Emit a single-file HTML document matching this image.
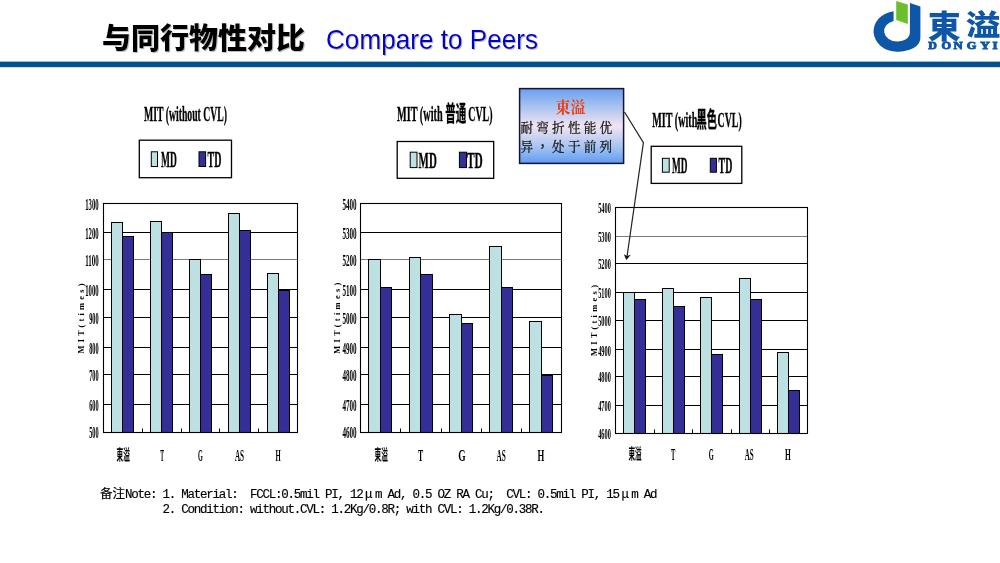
<!DOCTYPE html>
<html><head><meta charset="utf-8"><title>Compare to Peers</title>
<style>
html,body{margin:0;padding:0;background:#fff;}
body{width:1000px;height:563px;overflow:hidden;position:relative;}
svg{position:absolute;left:0;top:0;display:block;}
.note{position:absolute;left:100px;top:486px;font-family:'Liberation Mono','Noto Sans CJK SC',monospace;font-size:12.5px;line-height:14.7px;color:#000;white-space:pre;-webkit-text-stroke:0.15px #000;letter-spacing:-1.25px;}
.note .cj{font-family:'Noto Sans CJK SC',sans-serif;letter-spacing:0;display:inline-block;width:25px;}
.note .l2{padding-left:62.5px;}
.note .mu{font-family:'Noto Sans CJK SC',sans-serif;letter-spacing:0;display:inline-block;width:12.5px;text-align:center;}
</style></head><body>
<svg width="1000" height="563" viewBox="0 0 1000 563">
<defs><linearGradient id="cg" x1="0" y1="0" x2="0" y2="1"><stop offset="0" stop-color="#6A9EF0"/><stop offset="0.22" stop-color="#A2C0F0"/><stop offset="0.5" stop-color="#F2E4F0"/><stop offset="0.78" stop-color="#A4C4F2"/><stop offset="1" stop-color="#5F9AF2"/></linearGradient><filter id="sh" x="-5%" y="-20%" width="110%" height="140%"><feDropShadow dx="1" dy="1" stdDeviation="0.5" flood-color="#888" flood-opacity="0.55"/></filter></defs>
<rect width="1000" height="563" fill="#fff"/>
<rect x="0" y="61.6" width="1000" height="5.6" fill="#03508F"/>
<text x="102" y="49" font-size="29" font-family="'Liberation Sans','Noto Sans CJK SC',sans-serif" font-weight="900" fill="#000" text-anchor="start" textLength="203" lengthAdjust="spacingAndGlyphs" filter="url(#sh)">与同行物性对比</text>
<text x="326" y="48.8" font-size="28.5" font-family="'Liberation Sans',sans-serif" font-weight="normal" fill="#0000C8" text-anchor="start" textLength="212" lengthAdjust="spacingAndGlyphs" filter="url(#sh)">Compare to Peers</text>
<path d="M893.6 11.3 A23.3 20.3 0 0 0 896.8 51.7 C909 51.7 920.4 47 920.4 37.5 L920.4 6.5 L909.9 3 L909.9 32 C909.9 38 904.5 41.5 897.2 41.5 A13 10.5 0 0 1 893.6 20.9 Z" fill="#0D56A8"/>
<polygon points="896.2,1 907.8,4.5 907.8,23.9 896.2,19.9" fill="#6DBE2D"/>
<text y="37.6" font-family="'Liberation Sans','Noto Sans CJK TC',sans-serif" font-weight="900" fill="#0D56A8"><tspan x="928" font-size="31.5" textLength="32.6" lengthAdjust="spacingAndGlyphs">東</tspan><tspan x="965.8" y="36" font-size="29" textLength="34.6" lengthAdjust="spacingAndGlyphs">溢</tspan></text>
<text y="49.3" font-size="9.3" font-family="'Liberation Serif',serif" font-weight="bold" fill="#0D56A8" stroke="#0D56A8" stroke-width="0.8"><tspan x="928.3" textLength="8.6" lengthAdjust="spacingAndGlyphs">D</tspan><tspan x="941.6" textLength="9.6" lengthAdjust="spacingAndGlyphs">O</tspan><tspan x="953.6" textLength="9.2" lengthAdjust="spacingAndGlyphs">N</tspan><tspan x="966.7" textLength="9.6" lengthAdjust="spacingAndGlyphs">G</tspan> <tspan x="980.2" textLength="9.6" lengthAdjust="spacingAndGlyphs">Y</tspan><tspan x="992.6" textLength="5.1" lengthAdjust="spacingAndGlyphs">I</tspan></text>
<line x1="103.5" y1="232.5" x2="297.5" y2="232.5" stroke="#000" stroke-width="1"/>
<line x1="103.5" y1="259.5" x2="297.5" y2="259.5" stroke="#7a7a7a" stroke-width="1"/>
<line x1="103.5" y1="289.5" x2="297.5" y2="289.5" stroke="#000" stroke-width="1"/>
<line x1="103.5" y1="317.5" x2="297.5" y2="317.5" stroke="#000" stroke-width="1"/>
<line x1="103.5" y1="347.5" x2="297.5" y2="347.5" stroke="#000" stroke-width="1"/>
<line x1="103.5" y1="374.5" x2="297.5" y2="374.5" stroke="#000" stroke-width="1"/>
<line x1="103.5" y1="404.5" x2="297.5" y2="404.5" stroke="#000" stroke-width="1"/>
<rect x="111.5" y="222.5" width="11" height="210" fill="#BDE0E3" stroke="#000" stroke-width="1"/>
<rect x="122.5" y="236.5" width="11" height="196" fill="#342F97" stroke="#000" stroke-width="1"/>
<rect x="150.5" y="221.5" width="11" height="211" fill="#BDE0E3" stroke="#000" stroke-width="1"/>
<rect x="161.5" y="232.5" width="11" height="200" fill="#342F97" stroke="#000" stroke-width="1"/>
<rect x="189.5" y="259.5" width="11" height="173" fill="#BDE0E3" stroke="#000" stroke-width="1"/>
<rect x="200.5" y="274.5" width="11" height="158" fill="#342F97" stroke="#000" stroke-width="1"/>
<rect x="228.5" y="213.5" width="11" height="219" fill="#BDE0E3" stroke="#000" stroke-width="1"/>
<rect x="239.5" y="230.5" width="11" height="202" fill="#342F97" stroke="#000" stroke-width="1"/>
<rect x="267.5" y="273.5" width="11" height="159" fill="#BDE0E3" stroke="#000" stroke-width="1"/>
<rect x="278.5" y="290.5" width="11" height="142" fill="#342F97" stroke="#000" stroke-width="1"/>
<rect x="103.5" y="203.5" width="194" height="229" fill="none" stroke="#000" stroke-width="1.1"/>
<line x1="142.5" y1="428.5" x2="142.5" y2="432.5" stroke="#000" stroke-width="1"/>
<line x1="181.5" y1="428.5" x2="181.5" y2="432.5" stroke="#000" stroke-width="1"/>
<line x1="219.5" y1="428.5" x2="219.5" y2="432.5" stroke="#000" stroke-width="1"/>
<line x1="258.5" y1="428.5" x2="258.5" y2="432.5" stroke="#000" stroke-width="1"/>
<text x="98.6" y="209.56" font-size="16" font-family="'Liberation Serif', 'Noto Serif CJK SC', serif" font-weight="bold" fill="#000" text-anchor="end" textLength="13.4" lengthAdjust="spacingAndGlyphs" >1300</text>
<text x="98.6" y="238.66" font-size="16" font-family="'Liberation Serif', 'Noto Serif CJK SC', serif" font-weight="bold" fill="#000" text-anchor="end" textLength="13.4" lengthAdjust="spacingAndGlyphs" >1200</text>
<text x="98.6" y="265.86" font-size="16" font-family="'Liberation Serif', 'Noto Serif CJK SC', serif" font-weight="bold" fill="#000" text-anchor="end" textLength="13.4" lengthAdjust="spacingAndGlyphs" >1100</text>
<text x="98.6" y="295.66" font-size="16" font-family="'Liberation Serif', 'Noto Serif CJK SC', serif" font-weight="bold" fill="#000" text-anchor="end" textLength="13.4" lengthAdjust="spacingAndGlyphs" >1000</text>
<text x="98.6" y="323.66" font-size="16" font-family="'Liberation Serif', 'Noto Serif CJK SC', serif" font-weight="bold" fill="#000" text-anchor="end" textLength="9.35" lengthAdjust="spacingAndGlyphs" >900</text>
<text x="98.6" y="353.56" font-size="16" font-family="'Liberation Serif', 'Noto Serif CJK SC', serif" font-weight="bold" fill="#000" text-anchor="end" textLength="9.35" lengthAdjust="spacingAndGlyphs" >800</text>
<text x="98.6" y="380.96" font-size="16" font-family="'Liberation Serif', 'Noto Serif CJK SC', serif" font-weight="bold" fill="#000" text-anchor="end" textLength="9.35" lengthAdjust="spacingAndGlyphs" >700</text>
<text x="98.6" y="410.76" font-size="16" font-family="'Liberation Serif', 'Noto Serif CJK SC', serif" font-weight="bold" fill="#000" text-anchor="end" textLength="9.35" lengthAdjust="spacingAndGlyphs" >600</text>
<text x="98.6" y="438.16" font-size="16" font-family="'Liberation Serif', 'Noto Serif CJK SC', serif" font-weight="bold" fill="#000" text-anchor="end" textLength="9.35" lengthAdjust="spacingAndGlyphs" >500</text>
<text x="116.5" y="459.6" font-size="15" font-family="'Liberation Serif', 'Noto Sans CJK SC', sans-serif" font-weight="bold" fill="#000" text-anchor="start" textLength="13.3" lengthAdjust="spacingAndGlyphs" >東溢</text>
<text x="160.3" y="460.6" font-size="16" font-family="'Liberation Serif', 'Noto Serif CJK SC', serif" font-weight="bold" fill="#000" text-anchor="start" textLength="3.8" lengthAdjust="spacingAndGlyphs" >T</text>
<text x="198.1" y="460.6" font-size="16" font-family="'Liberation Serif', 'Noto Serif CJK SC', serif" font-weight="bold" fill="#000" text-anchor="start" textLength="4.8" lengthAdjust="spacingAndGlyphs" >G</text>
<text x="234.9" y="460.6" font-size="16" font-family="'Liberation Serif', 'Noto Serif CJK SC', serif" font-weight="bold" fill="#000" text-anchor="start" textLength="9.1" lengthAdjust="spacingAndGlyphs" >AS</text>
<text x="275.4" y="460.6" font-size="16" font-family="'Liberation Serif', 'Noto Serif CJK SC', serif" font-weight="bold" fill="#000" text-anchor="start" textLength="5.2" lengthAdjust="spacingAndGlyphs" >H</text>
<text transform="translate(84.3,353.5) rotate(-90)" font-size="8.5" font-family="'Liberation Serif', 'Noto Serif CJK SC', serif" font-weight="bold" textLength="70" lengthAdjust="spacing" fill="#000">M I T ( t i m e s )</text>
<line x1="360.5" y1="232.5" x2="561.5" y2="232.5" stroke="#000" stroke-width="1"/>
<line x1="360.5" y1="259.5" x2="561.5" y2="259.5" stroke="#7a7a7a" stroke-width="1"/>
<line x1="360.5" y1="289.5" x2="561.5" y2="289.5" stroke="#000" stroke-width="1"/>
<line x1="360.5" y1="317.5" x2="561.5" y2="317.5" stroke="#000" stroke-width="1"/>
<line x1="360.5" y1="347.5" x2="561.5" y2="347.5" stroke="#000" stroke-width="1"/>
<line x1="360.5" y1="374.5" x2="561.5" y2="374.5" stroke="#000" stroke-width="1"/>
<line x1="360.5" y1="404.5" x2="561.5" y2="404.5" stroke="#000" stroke-width="1"/>
<rect x="368.5" y="259.5" width="12" height="173" fill="#BDE0E3" stroke="#000" stroke-width="1"/>
<rect x="380.5" y="287.5" width="11" height="145" fill="#342F97" stroke="#000" stroke-width="1"/>
<rect x="409.5" y="257.5" width="11" height="175" fill="#BDE0E3" stroke="#000" stroke-width="1"/>
<rect x="420.5" y="274.5" width="12" height="158" fill="#342F97" stroke="#000" stroke-width="1"/>
<rect x="449.5" y="314.5" width="12" height="118" fill="#BDE0E3" stroke="#000" stroke-width="1"/>
<rect x="461.5" y="323.5" width="11" height="109" fill="#342F97" stroke="#000" stroke-width="1"/>
<rect x="489.5" y="246.5" width="12" height="186" fill="#BDE0E3" stroke="#000" stroke-width="1"/>
<rect x="501.5" y="287.5" width="11" height="145" fill="#342F97" stroke="#000" stroke-width="1"/>
<rect x="529.5" y="321.5" width="12" height="111" fill="#BDE0E3" stroke="#000" stroke-width="1"/>
<rect x="541.5" y="375.5" width="11" height="57" fill="#342F97" stroke="#000" stroke-width="1"/>
<rect x="360.5" y="203.5" width="201" height="229" fill="none" stroke="#000" stroke-width="1.1"/>
<line x1="400.5" y1="428.5" x2="400.5" y2="432.5" stroke="#000" stroke-width="1"/>
<line x1="441.5" y1="428.5" x2="441.5" y2="432.5" stroke="#000" stroke-width="1"/>
<line x1="481.5" y1="428.5" x2="481.5" y2="432.5" stroke="#000" stroke-width="1"/>
<line x1="521.5" y1="428.5" x2="521.5" y2="432.5" stroke="#000" stroke-width="1"/>
<text x="356.6" y="209.56" font-size="16" font-family="'Liberation Serif', 'Noto Serif CJK SC', serif" font-weight="bold" fill="#000" text-anchor="end" textLength="14.2" lengthAdjust="spacingAndGlyphs" >5400</text>
<text x="356.6" y="238.66" font-size="16" font-family="'Liberation Serif', 'Noto Serif CJK SC', serif" font-weight="bold" fill="#000" text-anchor="end" textLength="14.2" lengthAdjust="spacingAndGlyphs" >5300</text>
<text x="356.6" y="265.86" font-size="16" font-family="'Liberation Serif', 'Noto Serif CJK SC', serif" font-weight="bold" fill="#000" text-anchor="end" textLength="14.2" lengthAdjust="spacingAndGlyphs" >5200</text>
<text x="356.6" y="295.66" font-size="16" font-family="'Liberation Serif', 'Noto Serif CJK SC', serif" font-weight="bold" fill="#000" text-anchor="end" textLength="14.2" lengthAdjust="spacingAndGlyphs" >5100</text>
<text x="356.6" y="323.66" font-size="16" font-family="'Liberation Serif', 'Noto Serif CJK SC', serif" font-weight="bold" fill="#000" text-anchor="end" textLength="14.2" lengthAdjust="spacingAndGlyphs" >5000</text>
<text x="356.6" y="353.56" font-size="16" font-family="'Liberation Serif', 'Noto Serif CJK SC', serif" font-weight="bold" fill="#000" text-anchor="end" textLength="14.2" lengthAdjust="spacingAndGlyphs" >4900</text>
<text x="356.6" y="380.96" font-size="16" font-family="'Liberation Serif', 'Noto Serif CJK SC', serif" font-weight="bold" fill="#000" text-anchor="end" textLength="14.2" lengthAdjust="spacingAndGlyphs" >4800</text>
<text x="356.6" y="410.76" font-size="16" font-family="'Liberation Serif', 'Noto Serif CJK SC', serif" font-weight="bold" fill="#000" text-anchor="end" textLength="14.2" lengthAdjust="spacingAndGlyphs" >4700</text>
<text x="356.6" y="438.16" font-size="16" font-family="'Liberation Serif', 'Noto Serif CJK SC', serif" font-weight="bold" fill="#000" text-anchor="end" textLength="14.2" lengthAdjust="spacingAndGlyphs" >4600</text>
<text x="374.6" y="459.7" font-size="15" font-family="'Liberation Serif', 'Noto Sans CJK SC', sans-serif" font-weight="bold" fill="#000" text-anchor="start" textLength="13.3" lengthAdjust="spacingAndGlyphs" >東溢</text>
<text x="418.1" y="460.7" font-size="16" font-family="'Liberation Serif', 'Noto Serif CJK SC', serif" font-weight="bold" fill="#000" text-anchor="start" textLength="5.2" lengthAdjust="spacingAndGlyphs" >T</text>
<text x="458.3" y="460.7" font-size="16" font-family="'Liberation Serif', 'Noto Serif CJK SC', serif" font-weight="bold" fill="#000" text-anchor="start" textLength="7.4" lengthAdjust="spacingAndGlyphs" >G</text>
<text x="496.6" y="460.7" font-size="16" font-family="'Liberation Serif', 'Noto Serif CJK SC', serif" font-weight="bold" fill="#000" text-anchor="start" textLength="9.2" lengthAdjust="spacingAndGlyphs" >AS</text>
<text x="537.4" y="460.7" font-size="16" font-family="'Liberation Serif', 'Noto Serif CJK SC', serif" font-weight="bold" fill="#000" text-anchor="start" textLength="6.8" lengthAdjust="spacingAndGlyphs" >H</text>
<text transform="translate(340.1,353.7) rotate(-90)" font-size="8.5" font-family="'Liberation Serif', 'Noto Serif CJK SC', serif" font-weight="bold" textLength="71" lengthAdjust="spacing" fill="#000">M I T ( t i m e s )</text>
<line x1="615.5" y1="236.5" x2="807.5" y2="236.5" stroke="#7a7a7a" stroke-width="1"/>
<line x1="615.5" y1="263.5" x2="807.5" y2="263.5" stroke="#000" stroke-width="1"/>
<line x1="615.5" y1="292.5" x2="807.5" y2="292.5" stroke="#000" stroke-width="1"/>
<line x1="615.5" y1="320.5" x2="807.5" y2="320.5" stroke="#000" stroke-width="1"/>
<line x1="615.5" y1="349.5" x2="807.5" y2="349.5" stroke="#000" stroke-width="1"/>
<line x1="615.5" y1="376.5" x2="807.5" y2="376.5" stroke="#000" stroke-width="1"/>
<line x1="615.5" y1="405.5" x2="807.5" y2="405.5" stroke="#000" stroke-width="1"/>
<rect x="623.5" y="292.5" width="11" height="141" fill="#BDE0E3" stroke="#000" stroke-width="1"/>
<rect x="634.5" y="299.5" width="11" height="134" fill="#342F97" stroke="#000" stroke-width="1"/>
<rect x="662.5" y="288.5" width="11" height="145" fill="#BDE0E3" stroke="#000" stroke-width="1"/>
<rect x="673.5" y="306.5" width="11" height="127" fill="#342F97" stroke="#000" stroke-width="1"/>
<rect x="700.5" y="297.5" width="11" height="136" fill="#BDE0E3" stroke="#000" stroke-width="1"/>
<rect x="711.5" y="354.5" width="11" height="79" fill="#342F97" stroke="#000" stroke-width="1"/>
<rect x="739.5" y="278.5" width="11" height="155" fill="#BDE0E3" stroke="#000" stroke-width="1"/>
<rect x="750.5" y="299.5" width="11" height="134" fill="#342F97" stroke="#000" stroke-width="1"/>
<rect x="777.5" y="352.5" width="11" height="81" fill="#BDE0E3" stroke="#000" stroke-width="1"/>
<rect x="788.5" y="390.5" width="11" height="43" fill="#342F97" stroke="#000" stroke-width="1"/>
<rect x="615.5" y="207.5" width="192" height="226" fill="none" stroke="#000" stroke-width="1.1"/>
<line x1="654.5" y1="429.5" x2="654.5" y2="433.5" stroke="#000" stroke-width="1"/>
<line x1="692.5" y1="429.5" x2="692.5" y2="433.5" stroke="#000" stroke-width="1"/>
<line x1="731.5" y1="429.5" x2="731.5" y2="433.5" stroke="#000" stroke-width="1"/>
<line x1="769.5" y1="429.5" x2="769.5" y2="433.5" stroke="#000" stroke-width="1"/>
<text x="610.8" y="213.4" font-size="15" font-family="'Liberation Serif', 'Noto Serif CJK SC', serif" font-weight="bold" fill="#000" text-anchor="end" textLength="12.6" lengthAdjust="spacingAndGlyphs" >5400</text>
<text x="610.8" y="242.3" font-size="15" font-family="'Liberation Serif', 'Noto Serif CJK SC', serif" font-weight="bold" fill="#000" text-anchor="end" textLength="12.6" lengthAdjust="spacingAndGlyphs" >5300</text>
<text x="610.8" y="269.1" font-size="15" font-family="'Liberation Serif', 'Noto Serif CJK SC', serif" font-weight="bold" fill="#000" text-anchor="end" textLength="12.6" lengthAdjust="spacingAndGlyphs" >5200</text>
<text x="610.8" y="298.4" font-size="15" font-family="'Liberation Serif', 'Noto Serif CJK SC', serif" font-weight="bold" fill="#000" text-anchor="end" textLength="12.6" lengthAdjust="spacingAndGlyphs" >5100</text>
<text x="610.8" y="326.3" font-size="15" font-family="'Liberation Serif', 'Noto Serif CJK SC', serif" font-weight="bold" fill="#000" text-anchor="end" textLength="12.6" lengthAdjust="spacingAndGlyphs" >5000</text>
<text x="610.8" y="355.5" font-size="15" font-family="'Liberation Serif', 'Noto Serif CJK SC', serif" font-weight="bold" fill="#000" text-anchor="end" textLength="12.6" lengthAdjust="spacingAndGlyphs" >4900</text>
<text x="610.8" y="382.2" font-size="15" font-family="'Liberation Serif', 'Noto Serif CJK SC', serif" font-weight="bold" fill="#000" text-anchor="end" textLength="12.6" lengthAdjust="spacingAndGlyphs" >4800</text>
<text x="610.8" y="411.3" font-size="15" font-family="'Liberation Serif', 'Noto Serif CJK SC', serif" font-weight="bold" fill="#000" text-anchor="end" textLength="12.6" lengthAdjust="spacingAndGlyphs" >4700</text>
<text x="610.8" y="438.9" font-size="15" font-family="'Liberation Serif', 'Noto Serif CJK SC', serif" font-weight="bold" fill="#000" text-anchor="end" textLength="12.6" lengthAdjust="spacingAndGlyphs" >4600</text>
<text x="628.4" y="459.4" font-size="14.5" font-family="'Liberation Serif', 'Noto Sans CJK SC', sans-serif" font-weight="bold" fill="#000" text-anchor="start" textLength="13.2" lengthAdjust="spacingAndGlyphs" >東溢</text>
<text x="671" y="459.7" font-size="16" font-family="'Liberation Serif', 'Noto Serif CJK SC', serif" font-weight="bold" fill="#000" text-anchor="start" textLength="4.3" lengthAdjust="spacingAndGlyphs" >T</text>
<text x="708.8" y="459.7" font-size="16" font-family="'Liberation Serif', 'Noto Serif CJK SC', serif" font-weight="bold" fill="#000" text-anchor="start" textLength="5" lengthAdjust="spacingAndGlyphs" >G</text>
<text x="744.8" y="459.7" font-size="16" font-family="'Liberation Serif', 'Noto Serif CJK SC', serif" font-weight="bold" fill="#000" text-anchor="start" textLength="8.9" lengthAdjust="spacingAndGlyphs" >AS</text>
<text x="785.1" y="459.7" font-size="16" font-family="'Liberation Serif', 'Noto Serif CJK SC', serif" font-weight="bold" fill="#000" text-anchor="start" textLength="5.8" lengthAdjust="spacingAndGlyphs" >H</text>
<text transform="translate(597.3,356) rotate(-90)" font-size="8.5" font-family="'Liberation Serif', 'Noto Serif CJK SC', serif" font-weight="bold" textLength="71" lengthAdjust="spacing" fill="#000">M I T ( t i m e s )</text>
<text x="144" y="121.4" font-size="21.5" font-family="'Liberation Serif', 'Noto Serif CJK SC', serif" font-weight="bold" fill="#000" text-anchor="start" textLength="83" lengthAdjust="spacingAndGlyphs"  stroke="#000" stroke-width="0.35">MIT (without CVL)</text>
<text y="121.3" font-size="21.5" fill="#000" stroke="#000" stroke-width="0.35"><tspan x="397" textLength="45.6" lengthAdjust="spacingAndGlyphs" font-family="'Liberation Serif', 'Noto Serif CJK SC', serif" font-weight="bold">MIT (with</tspan> <tspan x="445.3" textLength="21" lengthAdjust="spacingAndGlyphs" font-family="'Liberation Serif', 'Noto Sans CJK SC', sans-serif" font-weight="bold">普通</tspan> <tspan x="468.3" textLength="24.2" lengthAdjust="spacingAndGlyphs" font-family="'Liberation Serif', 'Noto Serif CJK SC', serif" font-weight="bold">CVL)</tspan></text>
<text y="126.9" font-size="21.5" fill="#000" stroke="#000" stroke-width="0.35"><tspan x="652.3" textLength="45" lengthAdjust="spacingAndGlyphs" font-family="'Liberation Serif', 'Noto Serif CJK SC', serif" font-weight="bold">MIT (with</tspan><tspan x="696.4" textLength="20.5" lengthAdjust="spacingAndGlyphs" font-family="'Liberation Serif', 'Noto Sans CJK SC', sans-serif" font-weight="bold">黑色</tspan><tspan x="717.5" textLength="24.2" lengthAdjust="spacingAndGlyphs" font-family="'Liberation Serif', 'Noto Serif CJK SC', serif" font-weight="bold">CVL)</tspan></text>
<rect x="139.3" y="140.2" width="92.2" height="37.5" fill="#fff" stroke="#000" stroke-width="1.3"/>
<rect x="151.3" y="151.8" width="6.2" height="14.7" fill="#BDE0E3" stroke="#000" stroke-width="1"/>
<rect x="199" y="151.8" width="6.6" height="14.7" fill="#342F97" stroke="#000" stroke-width="1"/>
<text x="161" y="167" font-size="23" font-family="'Liberation Serif', 'Noto Serif CJK SC', serif" font-weight="bold" fill="#000" text-anchor="start" textLength="15.8" lengthAdjust="spacingAndGlyphs"  stroke="#000" stroke-width="0.35">MD</text>
<text x="207.6" y="167" font-size="23" font-family="'Liberation Serif', 'Noto Serif CJK SC', serif" font-weight="bold" fill="#000" text-anchor="start" textLength="13.9" lengthAdjust="spacingAndGlyphs"  stroke="#000" stroke-width="0.35">TD</text>
<rect x="397.2" y="141.5" width="96.5" height="36.8" fill="#fff" stroke="#000" stroke-width="1.3"/>
<rect x="410.2" y="152.2" width="6.8" height="15.4" fill="#BDE0E3" stroke="#000" stroke-width="1"/>
<rect x="459.4" y="152.2" width="7.1" height="15.4" fill="#342F97" stroke="#000" stroke-width="1"/>
<text x="418.6" y="167.8" font-size="23" font-family="'Liberation Serif', 'Noto Serif CJK SC', serif" font-weight="bold" fill="#000" text-anchor="start" textLength="18.2" lengthAdjust="spacingAndGlyphs"  stroke="#000" stroke-width="0.35">MD</text>
<text x="467" y="167.8" font-size="23" font-family="'Liberation Serif', 'Noto Serif CJK SC', serif" font-weight="bold" fill="#000" text-anchor="start" textLength="15.8" lengthAdjust="spacingAndGlyphs"  stroke="#000" stroke-width="0.35">TD</text>
<rect x="651.2" y="146.3" width="90.6" height="37.1" fill="#fff" stroke="#000" stroke-width="1.3"/>
<rect x="662.4" y="158.3" width="6.8" height="13.9" fill="#BDE0E3" stroke="#000" stroke-width="1"/>
<rect x="710.3" y="158.3" width="6.1" height="13.9" fill="#342F97" stroke="#000" stroke-width="1"/>
<text x="672" y="173.2" font-size="23" font-family="'Liberation Serif', 'Noto Serif CJK SC', serif" font-weight="bold" fill="#000" text-anchor="start" textLength="15.5" lengthAdjust="spacingAndGlyphs"  stroke="#000" stroke-width="0.35">MD</text>
<text x="718.6" y="173.2" font-size="23" font-family="'Liberation Serif', 'Noto Serif CJK SC', serif" font-weight="bold" fill="#000" text-anchor="start" textLength="13.7" lengthAdjust="spacingAndGlyphs"  stroke="#000" stroke-width="0.35">TD</text>
<rect x="519.6" y="88.6" width="104" height="74.8" fill="url(#cg)" stroke="#141432" stroke-width="1.5"/>
<text x="555.5" y="112.8" font-size="15.5" font-family="'Liberation Serif','Noto Serif CJK SC',serif" font-weight="bold" fill="#F03A10" text-anchor="start" textLength="30" lengthAdjust="spacingAndGlyphs" >東溢</text>
<text x="520.5" y="131.8" font-size="12.6" font-family="'Liberation Serif','Noto Serif CJK SC',serif" font-weight="normal" fill="#111" text-anchor="start" letter-spacing="3.2" stroke="#111" stroke-width="0.25">耐弯折性能优</text>
<text x="520.5" y="150.6" font-size="12.6" font-family="'Liberation Serif','Noto Serif CJK SC',serif" font-weight="normal" fill="#111" text-anchor="start" letter-spacing="3.2" stroke="#111" stroke-width="0.25">异<tspan font-family="'Liberation Sans','Noto Sans CJK TC',sans-serif">，</tspan>处于前列</text>
<polyline points="624.5,112 643.4,142.6 627.1,256" fill="none" stroke="#222" stroke-width="1.2"/>
<polygon points="626.3,260 623.8,254.2 627.1,256 630.9,254.8" fill="#111"/>
</svg>
<div class="note"><div class="l1"><span class="cj">备注</span>Note: 1. Material:  FCCL:0.5mil PI, 12<span class="mu">μ</span>m Ad, 0.5 OZ RA Cu;  CVL: 0.5mil PI, 15<span class="mu">μ</span>m Ad</div><div class="l2">2. Condition: without.CVL: 1.2Kg/0.8R; with CVL: 1.2Kg/0.38R.</div></div>
</body></html>
